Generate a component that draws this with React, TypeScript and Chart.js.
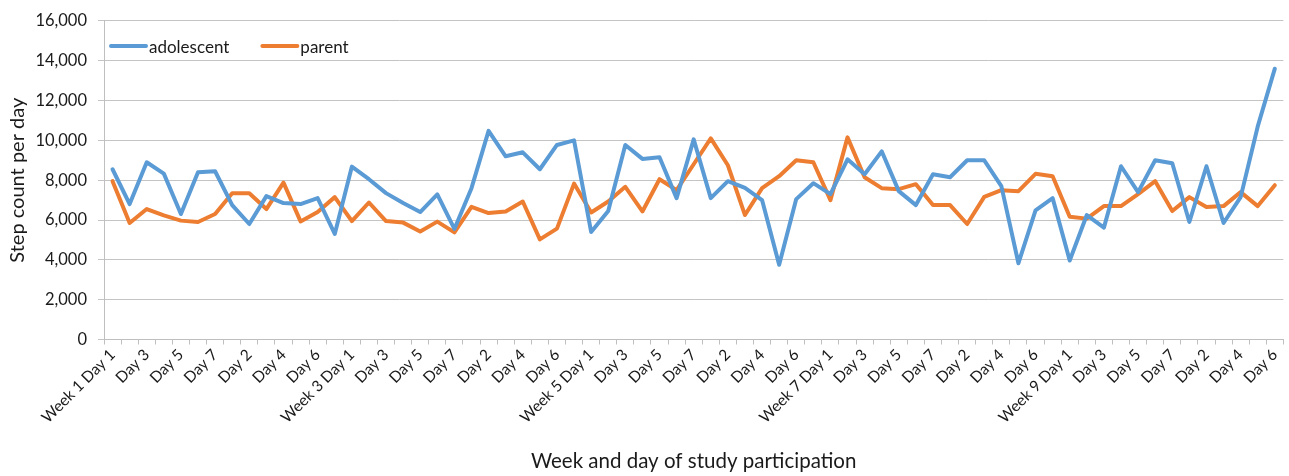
import React, { useEffect, useRef } from 'react';
import { Chart, registerables } from 'chart.js';

Chart.register(...registerables);

const categories: string[] = [
  'Week 1 Day 1', 'Day 2', 'Day 3', 'Day 4', 'Day 5', 'Day 6', 'Day 7',
  'Week 2 Day 1', 'Day 2', 'Day 3', 'Day 4', 'Day 5', 'Day 6', 'Day 7',
  'Week 3 Day 1', 'Day 2', 'Day 3', 'Day 4', 'Day 5', 'Day 6', 'Day 7',
  'Week 4 Day 1', 'Day 2', 'Day 3', 'Day 4', 'Day 5', 'Day 6', 'Day 7',
  'Week 5 Day 1', 'Day 2', 'Day 3', 'Day 4', 'Day 5', 'Day 6', 'Day 7',
  'Week 6 Day 1', 'Day 2', 'Day 3', 'Day 4', 'Day 5', 'Day 6', 'Day 7',
  'Week 7 Day 1', 'Day 2', 'Day 3', 'Day 4', 'Day 5', 'Day 6', 'Day 7',
  'Week 8 Day 1', 'Day 2', 'Day 3', 'Day 4', 'Day 5', 'Day 6', 'Day 7',
  'Week 9 Day 1', 'Day 2', 'Day 3', 'Day 4', 'Day 5', 'Day 6', 'Day 7',
  'Week 10 Day 1', 'Day 2', 'Day 3', 'Day 4', 'Day 5', 'Day 6',
];

const adolescent: number[] = [
  8550, 6800, 8900, 8330, 6300, 8400, 8450,
  6750, 5800, 7200, 6850, 6800, 7100, 5300,
  8680, 8050, 7350, 6850, 6400, 7290, 5550,
  7600, 10480, 9200, 9400, 8550, 9770, 10000,
  5400, 6450, 9770, 9070, 9150, 7100, 10050,
  7100, 7950, 7620, 7000, 3750, 7050, 7850,
  7300, 9050, 8300, 9450, 7450, 6750, 8300,
  8150, 9000, 9000, 7700, 3830, 6480, 7100,
  3970, 6250, 5620, 8700, 7400, 9000, 8850,
  5900, 8700, 5850, 7150, 10700, 13600,
];

const parent: number[] = [
  7950, 5850, 6550, 6230, 5970, 5900, 6300,
  7340, 7340, 6550, 7880, 5930, 6400, 7150,
  5950, 6880, 5950, 5870, 5420, 5920, 5380,
  6660, 6350, 6430, 6930, 5030, 5570, 7830,
  6380, 6930, 7670, 6430, 8050, 7500, 8800,
  10100, 8750, 6250, 7600, 8200, 9000, 8900,
  7000, 10150, 8150, 7600, 7550, 7800, 6750,
  6750, 5800, 7160, 7500, 7450, 8320, 8200,
  6160, 6070, 6700, 6700, 7300, 7950, 6450,
  7150, 6650, 6700, 7400, 6700, 7750,
];

const seriesNames = ['adolescent', 'parent'];
const seriesColors = ['#5B9BD5', '#ED7D31'];
const yTicks = { min: 0, max: 16000, step: 2000 };

const FONT = 'Lato, "Open Sans", sans-serif';
const TEXT = '#1a1a1a';

const insideLegend = {
  id: 'insideLegend',
  afterDraw(chart: any) {
    const { ctx, chartArea } = chart;
    ctx.save();
    ctx.font = `17px ${FONT}`;
    ctx.textBaseline = 'middle';
    ctx.textAlign = 'left';
    let x = chartArea.left + 6;
    const y = chartArea.top + 25;
    chart.data.datasets.forEach((ds: any) => {
      ctx.strokeStyle = ds.borderColor;
      ctx.lineWidth = 4;
      ctx.lineCap = 'round';
      ctx.beginPath();
      ctx.moveTo(x + 1, y);
      ctx.lineTo(x + 36, y);
      ctx.stroke();
      ctx.fillStyle = TEXT;
      ctx.fillText(ds.label, x + 39, y + 1.5);
      x += 39 + ctx.measureText(ds.label).width + 32;
    });
    ctx.restore();
  },
};

export default function App() {
  const ref = useRef<HTMLCanvasElement | null>(null);

  useEffect(() => {
    if (!ref.current) return;
    const chart = new Chart(ref.current, {
      type: 'line',
      data: {
        labels: categories,
        datasets: [
          {
            label: seriesNames[0],
            data: adolescent,
            borderColor: seriesColors[0],
            backgroundColor: seriesColors[0],
            borderWidth: 4,
            pointRadius: 0,
            tension: 0,
            borderJoinStyle: 'round',
            borderCapStyle: 'round',
          },
          {
            label: seriesNames[1],
            data: parent,
            borderColor: seriesColors[1],
            backgroundColor: seriesColors[1],
            borderWidth: 4,
            pointRadius: 0,
            tension: 0,
            borderJoinStyle: 'round',
            borderCapStyle: 'round',
          },
        ],
      },
      options: {
        animation: false,
        responsive: false,
        devicePixelRatio: 1,
        layout: { padding: { top: 8, right: 3, left: 0, bottom: 0 } },
        plugins: {
          legend: { display: false },
          tooltip: { enabled: false },
        },
        scales: {
          x: {
            type: 'category',
            offset: true,
            grid: {
              display: true,
              drawOnChartArea: false,
              drawTicks: true,
              tickLength: 5,
              offset: true,
              color: '#bfbfbf',
            },
            border: { color: '#bfbfbf', width: 1 },
            ticks: {
              autoSkip: false,
              maxRotation: 45,
              minRotation: 45,
              padding: 1,
              color: TEXT,
              font: { family: FONT, size: 15.5 },
              callback: (_v: any, i: number) => (i % 2 === 0 ? categories[i] : ''),
            },
            title: {
              display: true,
              text: 'Week and day of study participation',
              color: TEXT,
              font: { family: FONT, size: 20.5 },
              padding: { top: 4, bottom: 2 },
            },
            afterFit: (s: any) => {
              s.height = 136.5;
            },
          },
          y: {
            min: yTicks.min,
            max: yTicks.max,
            grid: { color: '#c4c4c4', tickLength: 6, drawTicks: true },
            border: { color: '#bfbfbf', width: 1 },
            ticks: {
              stepSize: yTicks.step,
              padding: 11,
              color: TEXT,
              font: { family: FONT, size: 16.5 },
              callback: (v: any) => Number(v).toLocaleString('en-US'),
            },
            title: {
              display: true,
              text: 'Step count per day',
              color: TEXT,
              font: { family: FONT, size: 20 },
              padding: { top: 6, bottom: 0 },
            },
            afterFit: (s: any) => {
              s.width = 104;
            },
          },
        },
      },
      plugins: [insideLegend],
    } as any);
    return () => chart.destroy();
  }, []);

  return (
    <div style={{ position: 'absolute', left: 0, top: 0, width: 1289, height: 476, background: '#ffffff' }}>
      <canvas ref={ref} width={1289} height={476} style={{ display: 'block' }} />
    </div>
  );
}
